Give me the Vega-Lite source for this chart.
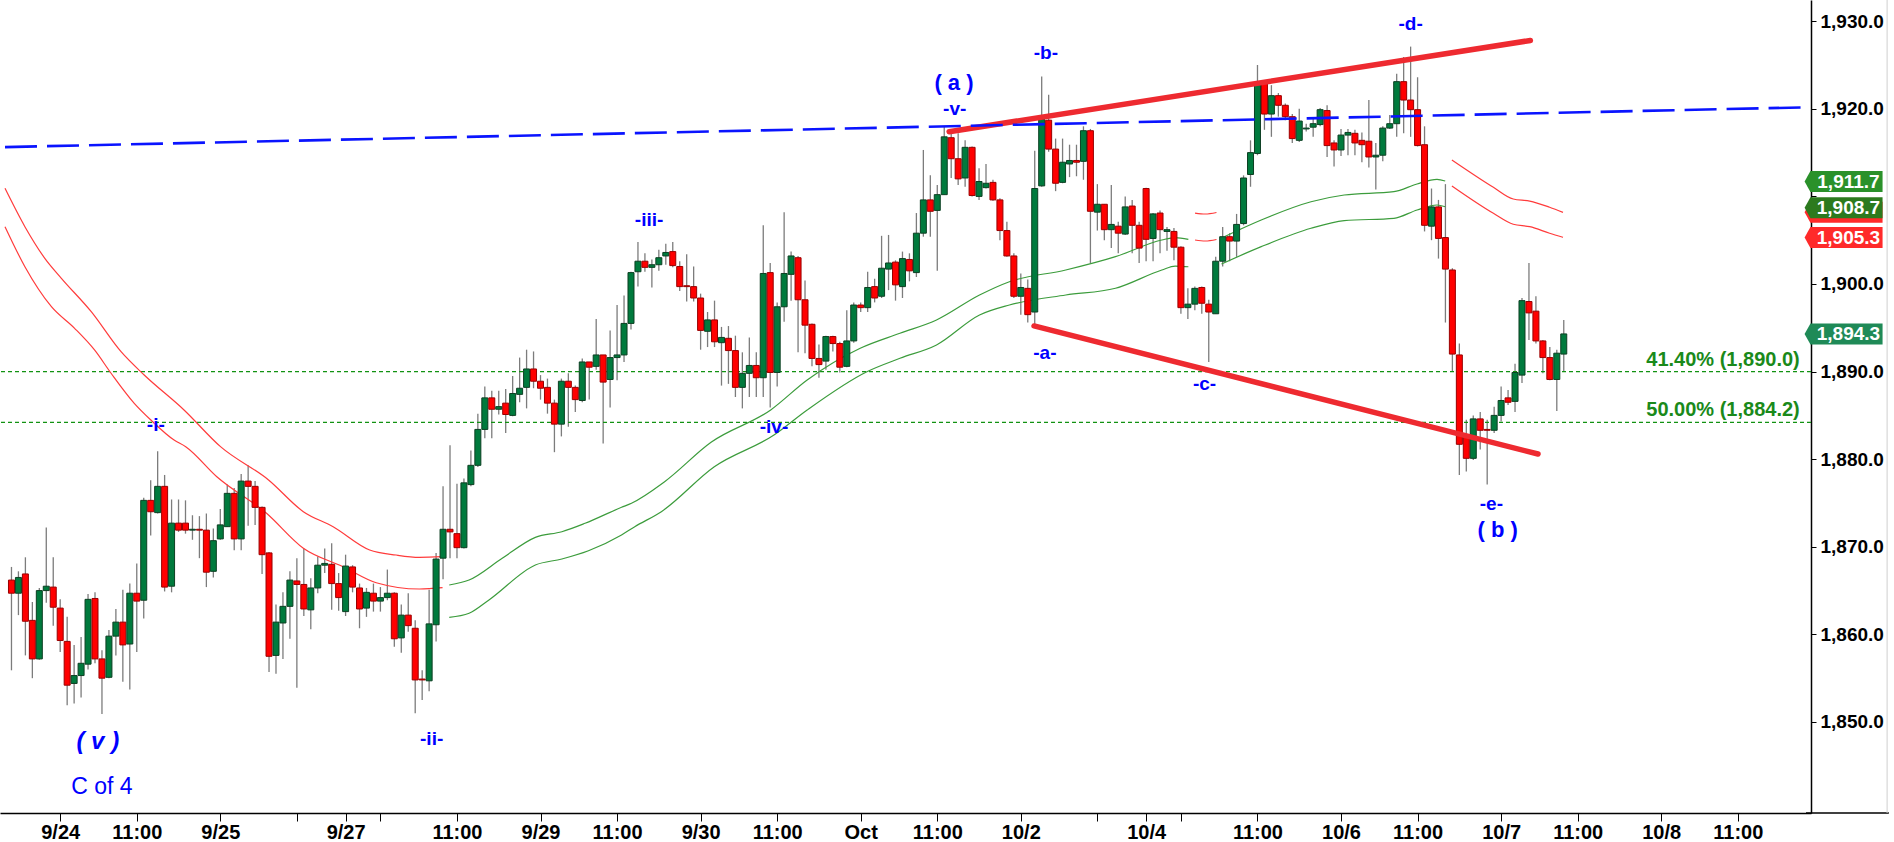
{
"$schema":"https://vega.github.io/schema/vega-lite/v6.json",
"width":1811,"height":813,
"autosize":"none",
"padding":{"left":0,"top":0,"right":83,"bottom":29},
"background":"white",
"config":{"view":{"stroke":null},"font":"Liberation Sans"},
"resolve":{"scale":{"color":"independent"}},
"datasets":{
"candles":[
{"i":-7,"o":1866.2,"h":1867.7,"l":1855.9,"c":1864.7},
{"i":-6,"o":1864.7,"h":1867.2,"l":1862.2,"c":1866.5},
{"i":-5,"o":1866.9,"h":1868.8,"l":1857.6,"c":1861.5},
{"i":-4,"o":1861.6,"h":1863.7,"l":1855.0,"c":1857.2},
{"i":-3,"o":1857.2,"h":1865.3,"l":1857.1,"c":1865.0},
{"i":-2,"o":1865.0,"h":1872.2,"l":1863.6,"c":1865.5},
{"i":-1,"o":1865.4,"h":1868.8,"l":1861.0,"c":1863.1},
{"i":0,"o":1863.0,"h":1864.0,"l":1858.0,"c":1859.3},
{"i":1,"o":1859.2,"h":1862.0,"l":1851.9,"c":1854.2},
{"i":2,"o":1854.4,"h":1858.8,"l":1852.1,"c":1855.3},
{"i":3,"o":1855.3,"h":1859.7,"l":1852.8,"c":1856.7},
{"i":4,"o":1856.6,"h":1864.6,"l":1856.0,"c":1864.0},
{"i":5,"o":1864.1,"h":1864.8,"l":1856.7,"c":1857.2},
{"i":6,"o":1857.2,"h":1858.2,"l":1850.9,"c":1855.0},
{"i":7,"o":1855.1,"h":1860.5,"l":1855.0,"c":1859.8},
{"i":8,"o":1859.8,"h":1862.9,"l":1857.6,"c":1861.4},
{"i":9,"o":1861.4,"h":1865.1,"l":1854.6,"c":1858.8},
{"i":10,"o":1858.9,"h":1865.8,"l":1853.7,"c":1864.7},
{"i":11,"o":1864.7,"h":1868.1,"l":1858.0,"c":1863.8},
{"i":12,"o":1863.9,"h":1875.6,"l":1861.8,"c":1875.3},
{"i":13,"o":1875.3,"h":1877.6,"l":1871.3,"c":1874.0},
{"i":14,"o":1873.9,"h":1880.9,"l":1873.8,"c":1876.9},
{"i":15,"o":1876.9,"h":1878.2,"l":1864.9,"c":1865.4},
{"i":16,"o":1865.5,"h":1875.4,"l":1864.8,"c":1872.7},
{"i":17,"o":1872.7,"h":1875.4,"l":1871.7,"c":1871.9},
{"i":18,"o":1872.7,"h":1875.3,"l":1871.5,"c":1871.9},
{"i":19,"o":1871.9,"h":1873.6,"l":1870.8,"c":1872.0},
{"i":20,"o":1872.0,"h":1873.5,"l":1868.7,"c":1871.9},
{"i":21,"o":1871.9,"h":1873.8,"l":1865.4,"c":1867.1},
{"i":22,"o":1867.2,"h":1872.1,"l":1866.5,"c":1870.7},
{"i":23,"o":1870.9,"h":1874.3,"l":1870.8,"c":1872.5},
{"i":24,"o":1872.3,"h":1877.1,"l":1872.3,"c":1876.1},
{"i":25,"o":1876.1,"h":1876.7,"l":1869.6,"c":1870.9},
{"i":26,"o":1870.9,"h":1878.3,"l":1869.6,"c":1877.5},
{"i":27,"o":1877.5,"h":1879.3,"l":1872.4,"c":1876.9},
{"i":28,"o":1876.9,"h":1877.5,"l":1872.5,"c":1874.5},
{"i":29,"o":1874.5,"h":1874.6,"l":1866.9,"c":1869.1},
{"i":30,"o":1869.3,"h":1869.4,"l":1855.7,"c":1857.5},
{"i":31,"o":1857.6,"h":1863.4,"l":1855.5,"c":1861.4},
{"i":32,"o":1861.3,"h":1864.8,"l":1857.2,"c":1863.2},
{"i":33,"o":1863.2,"h":1867.2,"l":1859.5,"c":1866.2},
{"i":34,"o":1866.1,"h":1868.7,"l":1853.9,"c":1865.7},
{"i":35,"o":1865.7,"h":1869.8,"l":1862.1,"c":1862.9},
{"i":36,"o":1862.8,"h":1866.4,"l":1860.6,"c":1865.3},
{"i":37,"o":1865.3,"h":1868.9,"l":1864.7,"c":1867.9},
{"i":38,"o":1867.9,"h":1869.8,"l":1867.0,"c":1868.1},
{"i":39,"o":1868.0,"h":1870.4,"l":1862.8,"c":1865.8},
{"i":40,"o":1865.8,"h":1867.0,"l":1862.7,"c":1864.2},
{"i":41,"o":1862.6,"h":1869.1,"l":1862.1,"c":1867.8},
{"i":42,"o":1867.7,"h":1867.9,"l":1864.8,"c":1865.4},
{"i":43,"o":1865.3,"h":1865.8,"l":1860.7,"c":1862.9},
{"i":44,"o":1863.0,"h":1865.3,"l":1862.0,"c":1864.8},
{"i":45,"o":1864.7,"h":1865.8,"l":1862.6,"c":1863.8},
{"i":46,"o":1863.8,"h":1865.4,"l":1862.6,"c":1864.2},
{"i":47,"o":1864.2,"h":1867.4,"l":1863.9,"c":1864.7},
{"i":48,"o":1864.7,"h":1864.8,"l":1858.6,"c":1859.5},
{"i":49,"o":1859.6,"h":1863.4,"l":1857.9,"c":1862.2},
{"i":50,"o":1862.2,"h":1864.7,"l":1860.3,"c":1861.0},
{"i":51,"o":1860.7,"h":1861.6,"l":1851.0,"c":1854.8},
{"i":52,"o":1854.9,"h":1855.9,"l":1852.5,"c":1854.8},
{"i":53,"o":1854.7,"h":1865.1,"l":1853.5,"c":1861.2},
{"i":54,"o":1861.1,"h":1869.3,"l":1859.2,"c":1868.6},
{"i":55,"o":1868.7,"h":1876.9,"l":1866.3,"c":1872.0},
{"i":56,"o":1872.0,"h":1881.6,"l":1868.7,"c":1871.7},
{"i":57,"o":1871.5,"h":1877.2,"l":1868.7,"c":1869.9},
{"i":58,"o":1869.9,"h":1877.8,"l":1869.8,"c":1877.3},
{"i":59,"o":1877.1,"h":1881.0,"l":1876.9,"c":1879.3},
{"i":60,"o":1879.3,"h":1885.2,"l":1879.1,"c":1883.4},
{"i":61,"o":1883.4,"h":1888.3,"l":1882.4,"c":1887.0},
{"i":62,"o":1887.0,"h":1887.8,"l":1882.4,"c":1885.7},
{"i":63,"o":1885.7,"h":1887.8,"l":1885.1,"c":1886.0},
{"i":64,"o":1886.4,"h":1888.0,"l":1883.0,"c":1885.1},
{"i":65,"o":1885.0,"h":1889.5,"l":1884.9,"c":1887.5},
{"i":66,"o":1887.4,"h":1891.6,"l":1886.5,"c":1888.1},
{"i":67,"o":1888.2,"h":1892.5,"l":1885.8,"c":1890.3},
{"i":68,"o":1890.3,"h":1892.3,"l":1888.1,"c":1888.9},
{"i":69,"o":1888.9,"h":1889.6,"l":1886.8,"c":1888.1},
{"i":70,"o":1888.2,"h":1889.2,"l":1885.2,"c":1886.4},
{"i":71,"o":1886.4,"h":1886.8,"l":1880.8,"c":1884.0},
{"i":72,"o":1884.0,"h":1889.2,"l":1882.6,"c":1888.9},
{"i":73,"o":1888.9,"h":1889.8,"l":1883.7,"c":1888.2},
{"i":74,"o":1888.2,"h":1888.4,"l":1885.4,"c":1886.8},
{"i":75,"o":1886.7,"h":1891.5,"l":1886.5,"c":1891.1},
{"i":76,"o":1891.1,"h":1891.1,"l":1886.8,"c":1890.5},
{"i":77,"o":1890.6,"h":1896.0,"l":1890.2,"c":1891.9},
{"i":78,"o":1891.9,"h":1891.9,"l":1881.8,"c":1888.8},
{"i":79,"o":1889.1,"h":1894.7,"l":1885.9,"c":1891.6},
{"i":80,"o":1891.6,"h":1897.6,"l":1889.0,"c":1891.9},
{"i":81,"o":1891.9,"h":1898.7,"l":1891.1,"c":1895.5},
{"i":82,"o":1895.5,"h":1901.4,"l":1894.8,"c":1901.3},
{"i":83,"o":1901.4,"h":1904.8,"l":1899.7,"c":1902.6},
{"i":84,"o":1902.6,"h":1903.5,"l":1901.4,"c":1901.9},
{"i":85,"o":1901.9,"h":1902.8,"l":1899.6,"c":1902.2},
{"i":86,"o":1902.2,"h":1903.9,"l":1901.5,"c":1903.0},
{"i":87,"o":1903.2,"h":1904.6,"l":1902.2,"c":1903.6},
{"i":88,"o":1903.7,"h":1904.8,"l":1901.9,"c":1902.1},
{"i":89,"o":1902.0,"h":1902.6,"l":1899.2,"c":1899.7},
{"i":90,"o":1899.8,"h":1903.4,"l":1898.0,"c":1899.7},
{"i":91,"o":1899.7,"h":1902.0,"l":1898.0,"c":1898.4},
{"i":92,"o":1898.4,"h":1898.9,"l":1892.5,"c":1894.7},
{"i":93,"o":1894.6,"h":1896.8,"l":1892.8,"c":1895.9},
{"i":94,"o":1895.9,"h":1898.1,"l":1892.8,"c":1893.4},
{"i":95,"o":1893.3,"h":1895.1,"l":1888.4,"c":1893.9},
{"i":96,"o":1893.8,"h":1895.2,"l":1888.6,"c":1892.4},
{"i":97,"o":1892.4,"h":1894.1,"l":1887.1,"c":1888.2},
{"i":98,"o":1888.2,"h":1892.2,"l":1885.8,"c":1889.8},
{"i":99,"o":1889.8,"h":1893.9,"l":1887.1,"c":1890.7},
{"i":100,"o":1890.7,"h":1892.2,"l":1887.1,"c":1889.3},
{"i":101,"o":1889.3,"h":1906.7,"l":1887.1,"c":1901.2},
{"i":102,"o":1901.3,"h":1902.4,"l":1885.9,"c":1889.9},
{"i":103,"o":1889.9,"h":1897.9,"l":1888.3,"c":1897.4},
{"i":104,"o":1897.4,"h":1908.2,"l":1895.7,"c":1901.2},
{"i":105,"o":1901.1,"h":1903.7,"l":1898.1,"c":1903.2},
{"i":106,"o":1903.0,"h":1903.2,"l":1892.2,"c":1898.2},
{"i":107,"o":1898.2,"h":1900.4,"l":1892.1,"c":1895.3},
{"i":108,"o":1895.4,"h":1895.5,"l":1890.6,"c":1891.5},
{"i":109,"o":1891.5,"h":1893.1,"l":1889.3,"c":1890.8},
{"i":110,"o":1891.2,"h":1894.1,"l":1890.2,"c":1894.0},
{"i":111,"o":1894.0,"h":1894.1,"l":1892.3,"c":1893.2},
{"i":112,"o":1893.2,"h":1893.4,"l":1889.9,"c":1890.5},
{"i":113,"o":1890.6,"h":1897.0,"l":1890.5,"c":1893.5},
{"i":114,"o":1893.5,"h":1897.9,"l":1893.3,"c":1897.6},
{"i":115,"o":1897.6,"h":1897.9,"l":1896.8,"c":1897.3},
{"i":116,"o":1897.3,"h":1901.4,"l":1896.8,"c":1899.6},
{"i":117,"o":1899.7,"h":1900.6,"l":1897.9,"c":1898.4},
{"i":118,"o":1898.6,"h":1905.5,"l":1898.4,"c":1901.8},
{"i":119,"o":1901.7,"h":1905.6,"l":1899.3,"c":1902.4},
{"i":120,"o":1902.5,"h":1902.7,"l":1898.1,"c":1899.9},
{"i":121,"o":1899.7,"h":1903.7,"l":1898.4,"c":1902.9},
{"i":122,"o":1902.8,"h":1903.5,"l":1900.3,"c":1901.5},
{"i":123,"o":1901.3,"h":1908.1,"l":1900.8,"c":1905.8},
{"i":124,"o":1905.8,"h":1915.3,"l":1905.4,"c":1909.6},
{"i":125,"o":1909.6,"h":1912.4,"l":1905.4,"c":1908.3},
{"i":126,"o":1908.4,"h":1911.3,"l":1901.5,"c":1910.2},
{"i":127,"o":1910.2,"h":1918.0,"l":1910.2,"c":1916.8},
{"i":128,"o":1916.7,"h":1917.2,"l":1912.1,"c":1914.3},
{"i":129,"o":1914.3,"h":1917.2,"l":1911.3,"c":1912.0},
{"i":130,"o":1912.1,"h":1916.4,"l":1911.1,"c":1915.6},
{"i":131,"o":1915.6,"h":1915.7,"l":1910.0,"c":1910.1},
{"i":132,"o":1910.0,"h":1913.2,"l":1909.6,"c":1911.7},
{"i":133,"o":1911.0,"h":1913.7,"l":1910.9,"c":1911.5},
{"i":134,"o":1911.6,"h":1911.9,"l":1909.5,"c":1909.6},
{"i":135,"o":1909.6,"h":1909.8,"l":1905.0,"c":1906.1},
{"i":136,"o":1906.1,"h":1907.1,"l":1903.1,"c":1903.2},
{"i":137,"o":1903.2,"h":1903.5,"l":1898.4,"c":1898.6},
{"i":138,"o":1898.6,"h":1901.2,"l":1896.5,"c":1899.6},
{"i":139,"o":1899.5,"h":1900.5,"l":1895.6,"c":1896.5},
{"i":140,"o":1896.8,"h":1915.2,"l":1895.2,"c":1910.9},
{"i":141,"o":1911.2,"h":1923.7,"l":1911.1,"c":1918.8},
{"i":142,"o":1918.7,"h":1921.6,"l":1915.1,"c":1915.4},
{"i":143,"o":1915.4,"h":1916.6,"l":1910.6,"c":1911.5},
{"i":144,"o":1911.6,"h":1916.6,"l":1911.5,"c":1913.9},
{"i":145,"o":1913.7,"h":1915.9,"l":1912.2,"c":1914.1},
{"i":146,"o":1914.1,"h":1915.9,"l":1912.3,"c":1913.9},
{"i":147,"o":1914.0,"h":1918.0,"l":1911.9,"c":1917.5},
{"i":148,"o":1917.5,"h":1917.7,"l":1902.4,"c":1908.3},
{"i":149,"o":1908.2,"h":1911.4,"l":1906.1,"c":1909.1},
{"i":150,"o":1909.1,"h":1909.1,"l":1905.0,"c":1906.2},
{"i":151,"o":1906.2,"h":1911.3,"l":1904.1,"c":1906.8},
{"i":152,"o":1906.6,"h":1907.1,"l":1903.5,"c":1905.8},
{"i":153,"o":1905.7,"h":1910.0,"l":1905.6,"c":1908.8},
{"i":154,"o":1908.9,"h":1909.6,"l":1903.5,"c":1906.7},
{"i":155,"o":1906.7,"h":1907.1,"l":1902.4,"c":1904.1},
{"i":156,"o":1910.9,"h":1911.0,"l":1902.6,"c":1905.1},
{"i":157,"o":1905.2,"h":1908.1,"l":1902.6,"c":1908.0},
{"i":158,"o":1908.1,"h":1908.4,"l":1903.5,"c":1906.2},
{"i":159,"o":1906.0,"h":1906.5,"l":1903.8,"c":1906.2},
{"i":160,"o":1906.0,"h":1906.4,"l":1902.7,"c":1904.2},
{"i":161,"o":1904.2,"h":1904.3,"l":1896.6,"c":1897.3},
{"i":162,"o":1897.3,"h":1899.5,"l":1896.0,"c":1897.7},
{"i":163,"o":1897.7,"h":1899.7,"l":1897.0,"c":1899.5},
{"i":164,"o":1899.6,"h":1899.7,"l":1896.6,"c":1897.8},
{"i":165,"o":1897.7,"h":1898.2,"l":1891.1,"c":1896.8},
{"i":166,"o":1896.6,"h":1903.1,"l":1896.6,"c":1902.6},
{"i":167,"o":1902.6,"h":1906.5,"l":1902.0,"c":1905.4},
{"i":168,"o":1905.4,"h":1905.8,"l":1902.6,"c":1904.9},
{"i":169,"o":1904.9,"h":1908.0,"l":1903.1,"c":1906.8},
{"i":170,"o":1906.9,"h":1912.4,"l":1906.7,"c":1912.1},
{"i":171,"o":1912.5,"h":1916.4,"l":1911.1,"c":1915.0},
{"i":172,"o":1914.9,"h":1925.0,"l":1914.7,"c":1922.9},
{"i":173,"o":1922.9,"h":1923.1,"l":1917.6,"c":1919.4},
{"i":174,"o":1919.4,"h":1922.7,"l":1916.8,"c":1921.5},
{"i":175,"o":1921.5,"h":1921.8,"l":1919.1,"c":1920.4},
{"i":176,"o":1920.4,"h":1920.6,"l":1918.7,"c":1919.1},
{"i":177,"o":1919.1,"h":1919.4,"l":1916.1,"c":1916.6},
{"i":178,"o":1916.4,"h":1920.0,"l":1916.2,"c":1918.6},
{"i":179,"o":1917.7,"h":1918.3,"l":1917.4,"c":1917.8},
{"i":180,"o":1917.9,"h":1918.9,"l":1916.8,"c":1918.3},
{"i":181,"o":1918.2,"h":1920.1,"l":1918.0,"c":1919.9},
{"i":182,"o":1919.8,"h":1920.4,"l":1914.5,"c":1915.8},
{"i":183,"o":1916.1,"h":1916.4,"l":1913.4,"c":1915.3},
{"i":184,"o":1915.3,"h":1917.7,"l":1914.6,"c":1917.0},
{"i":185,"o":1917.0,"h":1917.7,"l":1914.7,"c":1917.3},
{"i":186,"o":1917.2,"h":1917.6,"l":1914.7,"c":1916.1},
{"i":187,"o":1916.4,"h":1917.3,"l":1913.9,"c":1915.9},
{"i":188,"o":1916.3,"h":1921.0,"l":1913.3,"c":1914.5},
{"i":189,"o":1914.5,"h":1916.1,"l":1910.8,"c":1914.7},
{"i":190,"o":1914.7,"h":1918.0,"l":1914.0,"c":1917.8},
{"i":191,"o":1917.8,"h":1919.3,"l":1917.7,"c":1918.3},
{"i":192,"o":1918.3,"h":1924.0,"l":1916.8,"c":1923.1},
{"i":193,"o":1923.1,"h":1925.9,"l":1917.2,"c":1921.0},
{"i":194,"o":1921.0,"h":1927.1,"l":1916.8,"c":1919.9},
{"i":195,"o":1919.9,"h":1923.6,"l":1915.7,"c":1915.8},
{"i":196,"o":1915.9,"h":1918.0,"l":1906.0,"c":1906.7},
{"i":197,"o":1906.6,"h":1910.9,"l":1905.0,"c":1908.8},
{"i":198,"o":1908.8,"h":1909.6,"l":1902.9,"c":1905.2},
{"i":199,"o":1905.3,"h":1911.4,"l":1895.6,"c":1901.7},
{"i":200,"o":1901.6,"h":1901.8,"l":1890.0,"c":1892.0},
{"i":201,"o":1891.9,"h":1893.2,"l":1878.2,"c":1881.7},
{"i":202,"o":1882.6,"h":1884.5,"l":1878.6,"c":1880.1},
{"i":203,"o":1880.1,"h":1885.0,"l":1879.9,"c":1884.6},
{"i":204,"o":1884.6,"h":1885.4,"l":1881.1,"c":1883.3},
{"i":205,"o":1883.4,"h":1884.5,"l":1877.1,"c":1883.3},
{"i":206,"o":1883.3,"h":1886.0,"l":1883.0,"c":1885.0},
{"i":207,"o":1885.0,"h":1888.3,"l":1884.3,"c":1886.7},
{"i":208,"o":1887.0,"h":1887.9,"l":1886.2,"c":1886.5},
{"i":209,"o":1886.6,"h":1890.9,"l":1885.4,"c":1889.9},
{"i":210,"o":1889.6,"h":1898.4,"l":1888.7,"c":1898.1},
{"i":211,"o":1898.0,"h":1902.4,"l":1893.6,"c":1896.7},
{"i":212,"o":1896.9,"h":1898.6,"l":1893.2,"c":1893.5},
{"i":213,"o":1893.5,"h":1893.6,"l":1889.8,"c":1891.6},
{"i":214,"o":1891.6,"h":1892.8,"l":1889.0,"c":1889.1},
{"i":215,"o":1889.1,"h":1892.5,"l":1885.5,"c":1892.1},
{"i":216,"o":1892.0,"h":1895.9,"l":1890.0,"c":1894.3}
],
"ma":[
{"seg":"r1u","tr":"down","i":-7.93,"v":1910.92},{"seg":"r1u","tr":"down","i":-5.07,"v":1906.54},{"seg":"r1u","tr":"down","i":-2.21,"v":1902.93},{"seg":"r1u","tr":"down","i":0.17,"v":1900.65},{"seg":"r1u","tr":"down","i":4.46,"v":1896.84},{"seg":"r1u","tr":"down","i":8.74,"v":1892.27},{"seg":"r1u","tr":"down","i":12.07,"v":1889.61},{"seg":"r1u","tr":"down","i":17.79,"v":1885.62},{"seg":"r1u","tr":"down","i":23.03,"v":1881.43},{"seg":"r1u","tr":"down","i":29.93,"v":1877.63},{"seg":"r1u","tr":"down","i":34.93,"v":1874.01},{"seg":"r1u","tr":"down","i":39.21,"v":1872.29},{"seg":"r1u","tr":"down","i":44.46,"v":1869.63},{"seg":"r1u","tr":"down","i":48.26,"v":1869.06},{"seg":"r1u","tr":"down","i":51.6,"v":1868.8},{"seg":"r1u","tr":"down","i":54.93,"v":1868.87},
{"seg":"r1l","tr":"down","i":-7.93,"v":1906.54},{"seg":"r1l","tr":"down","i":-5.07,"v":1901.97},{"seg":"r1l","tr":"down","i":-1.26,"v":1897.41},{"seg":"r1l","tr":"down","i":2.07,"v":1894.94},{"seg":"r1l","tr":"down","i":4.93,"v":1892.47},{"seg":"r1l","tr":"down","i":7.31,"v":1889.81},{"seg":"r1l","tr":"down","i":10.64,"v":1886.38},{"seg":"r1l","tr":"down","i":13.03,"v":1884.47},{"seg":"r1l","tr":"down","i":16.36,"v":1882.19},{"seg":"r1l","tr":"down","i":18.03,"v":1881.43},{"seg":"r1l","tr":"down","i":22.5,"v":1878.0},{"seg":"r1l","tr":"down","i":29.64,"v":1873.82},{"seg":"r1l","tr":"down","i":34.93,"v":1869.83},{"seg":"r1l","tr":"down","i":40.64,"v":1867.73},{"seg":"r1l","tr":"down","i":45.4,"v":1865.9},{"seg":"r1l","tr":"down","i":51.6,"v":1865.18},{"seg":"r1l","tr":"down","i":54.93,"v":1865.33},
{"seg":"g1u","tr":"up","i":55.89,"v":1865.64},{"seg":"g1u","tr":"up","i":58.74,"v":1866.21},{"seg":"g1u","tr":"up","i":63.5,"v":1868.69},{"seg":"g1u","tr":"up","i":68.26,"v":1871.08},{"seg":"g1u","tr":"up","i":72.07,"v":1871.72},{"seg":"g1u","tr":"up","i":75.4,"v":1872.68},{"seg":"g1u","tr":"up","i":80.64,"v":1874.51},{"seg":"g1u","tr":"up","i":82.07,"v":1874.97},{"seg":"g1u","tr":"up","i":86.83,"v":1877.43},{"seg":"g1u","tr":"up","i":93.5,"v":1881.93},{"seg":"g1u","tr":"up","i":102.07,"v":1885.62},{"seg":"g1u","tr":"up","i":107.31,"v":1889.04},{"seg":"g1u","tr":"up","i":114.93,"v":1892.66},{"seg":"g1u","tr":"up","i":120.64,"v":1894.37},{"seg":"g1u","tr":"up","i":125.89,"v":1895.89},{"seg":"g1u","tr":"up","i":132.07,"v":1898.74},{"seg":"g1u","tr":"up","i":136.36,"v":1900.26},{"seg":"g1u","tr":"up","i":144.46,"v":1901.6},{"seg":"g1u","tr":"up","i":151.6,"v":1903.12},{"seg":"g1u","tr":"up","i":158.26,"v":1905.02},{"seg":"g1u","tr":"up","i":160.17,"v":1905.29},{"seg":"g1u","tr":"up","i":162.07,"v":1905.1},
{"seg":"g1l","tr":"up","i":55.89,"v":1861.95},{"seg":"g1l","tr":"up","i":58.74,"v":1862.41},{"seg":"g1l","tr":"up","i":61.6,"v":1863.93},{"seg":"g1l","tr":"up","i":68.26,"v":1867.92},{"seg":"g1l","tr":"up","i":72.07,"v":1868.61},{"seg":"g1l","tr":"up","i":75.89,"v":1869.55},{"seg":"g1l","tr":"up","i":80.64,"v":1871.35},{"seg":"g1l","tr":"up","i":82.54,"v":1872.29},{"seg":"g1l","tr":"up","i":86.36,"v":1874.01},{"seg":"g1l","tr":"up","i":93.97,"v":1879.14},{"seg":"g1l","tr":"up","i":102.54,"v":1882.76},{"seg":"g1l","tr":"up","i":107.31,"v":1885.62},{"seg":"g1l","tr":"up","i":115.89,"v":1889.99},{"seg":"g1l","tr":"up","i":120.64,"v":1891.52},{"seg":"g1l","tr":"up","i":125.89,"v":1893.04},{"seg":"g1l","tr":"up","i":132.07,"v":1896.46},{"seg":"g1l","tr":"up","i":136.36,"v":1897.6},{"seg":"g1l","tr":"up","i":144.46,"v":1898.74},{"seg":"g1l","tr":"up","i":151.6,"v":1899.51},{"seg":"g1l","tr":"up","i":158.26,"v":1901.6},{"seg":"g1l","tr":"up","i":160.17,"v":1902.05},{"seg":"g1l","tr":"up","i":162.07,"v":1901.97},
{"seg":"r2u","tr":"down","i":163.03,"v":1908.1},{"seg":"r2u","tr":"down","i":164.5,"v":1907.99},{"seg":"r2u","tr":"down","i":166.11,"v":1908.16},
{"seg":"r2l","tr":"down","i":163.03,"v":1905.02},{"seg":"r2l","tr":"down","i":164.5,"v":1904.91},{"seg":"r2l","tr":"down","i":166.11,"v":1905.08},
{"seg":"g2u","tr":"up","i":167.31,"v":1905.43},{"seg":"g2u","tr":"up","i":172.54,"v":1907.31},{"seg":"g2u","tr":"up","i":179.69,"v":1909.39},{"seg":"g2u","tr":"up","i":184.46,"v":1910.16},{"seg":"g2u","tr":"up","i":191.6,"v":1910.54},{"seg":"g2u","tr":"up","i":194.93,"v":1911.42},{"seg":"g2u","tr":"up","i":197.79,"v":1911.95},{"seg":"g2u","tr":"up","i":198.97,"v":1911.76},
{"seg":"g2l","tr":"up","i":166.83,"v":1902.28},{"seg":"g2l","tr":"up","i":172.54,"v":1904.26},{"seg":"g2l","tr":"up","i":179.69,"v":1906.36},{"seg":"g2l","tr":"up","i":184.46,"v":1907.23},{"seg":"g2l","tr":"up","i":191.6,"v":1907.5},{"seg":"g2l","tr":"up","i":194.93,"v":1908.45},{"seg":"g2l","tr":"up","i":197.79,"v":1909.02},{"seg":"g2l","tr":"up","i":198.97,"v":1908.82},
{"seg":"r3u","tr":"down","i":199.93,"v":1914.16},{"seg":"r3u","tr":"down","i":205.89,"v":1911.04},{"seg":"r3u","tr":"down","i":208.74,"v":1909.7},{"seg":"r3u","tr":"down","i":211.11,"v":1909.47},{"seg":"r3u","tr":"down","i":213.97,"v":1908.76},{"seg":"r3u","tr":"down","i":215.89,"v":1908.18},
{"seg":"r3l","tr":"down","i":199.93,"v":1911.19},{"seg":"r3l","tr":"down","i":205.89,"v":1908.07},{"seg":"r3l","tr":"down","i":208.74,"v":1906.82},{"seg":"r3l","tr":"down","i":211.11,"v":1906.54},{"seg":"r3l","tr":"down","i":213.97,"v":1905.79},{"seg":"r3l","tr":"down","i":215.89,"v":1905.33}
],
"trend":[
{"seg":"top","i":127.7,"v":1917.39},{"seg":"top","i":211.2,"v":1927.8},
{"seg":"bot","i":139.9,"v":1895.21},{"seg":"bot","i":212.3,"v":1880.59}
],
"blue":[{"i":-7.93,"v":1915.63},{"i":250.8,"v":1920.17}],
"fib":[{"i":249.9,"v":1890.0,"t":"41.40% (1,890.0)"},{"i":249.9,"v":1884.2,"t":"50.00% (1,884.2)"}],
"waves":[
{"i":13.74,"v":1883.9,"t":"-i-"},
{"i":53.36,"v":1848.06,"t":"-ii-"},
{"i":84.6,"v":1907.31,"t":"-iii-"},
{"i":102.54,"v":1883.71,"t":"-iv-"},
{"i":128.5,"v":1919.94,"t":"-v-"},
{"i":141.6,"v":1926.4,"t":"-b-"},
{"i":141.46,"v":1892.09,"t":"-a-"},
{"i":164.4,"v":1888.58,"t":"-c-"},
{"i":194.0,"v":1929.66,"t":"-d-"},
{"i":205.6,"v":1874.89,"t":"-e-"}
],
"big":[
{"i":128.4,"v":1922.91,"t":"( a )"},
{"i":206.5,"v":1871.92,"t":"( b )"}
],
"flags":[
{"k":"a","v":1911.7},{"k":"b","v":1908.2},{"k":"c","v":1908.7},{"k":"d","v":1905.3},{"k":"e","v":1894.3}
]
},
"layer":[
{"data":{"name":"candles"},"mark":{"type":"rule","color":"#7c7c7c","strokeWidth":1.3},
 "encoding":{"x":{"field":"i","type":"quantitative","scale":{"domain":[-7.93,250.8],"nice":false,"zero":false},
   "axis":{"orient":"bottom","title":null,"grid":false,"values":[0,11,23,34,41,46,57,69,80,92,103,115,126,138,149,156,161,172,184,195,207,218,230,241],
   "labelExpr":"['9/24','11:00','9/25','','9/27','','11:00','9/29','11:00','9/30','11:00','Oct','11:00','10/2','','10/4','','11:00','10/6','11:00','10/7','11:00','10/8','11:00'][indexof([0,11,23,34,41,46,57,69,80,92,103,115,126,138,149,156,161,172,184,195,207,218,230,241], datum.value)]",
   "labelOverlap":false,"labelFlush":false,"labelFont":"Liberation Sans Narrow, Liberation Sans","labelFontSize":20,"labelFontWeight":"bold","labelColor":"#000000","labelPadding":1,"labelBaseline":"top",
   "tickSize":8,"tickColor":"#000000","tickWidth":1,"domainColor":"#000000","domainWidth":1.5}},
 "y":{"field":"l","type":"quantitative","scale":{"domain":[1839.61,1932.42],"nice":false,"zero":false},
   "axis":{"orient":"right","title":null,"grid":false,"values":[1850,1860,1870,1880,1890,1900,1910,1920,1930],
   "labelExpr":"datum.value == 1910 ? '' : format(datum.value, ',.1f')",
   "labelFont":"Liberation Sans","labelFontSize":19,"labelFontWeight":"bold","labelColor":"#000000","labelPadding":4,
   "tickSize":5,"tickColor":"#000000","domainColor":"#000000","domainWidth":1.5}},
 "y2":{"field":"h"}}},
{"data":{"values":[{"a":250.8,"b":262.7}]},"mark":{"type":"rule","color":"#000000","strokeWidth":1.5},
 "encoding":{"x":{"field":"a","type":"quantitative","scale":{"domain":[-7.93,250.8],"nice":false,"zero":false}},
 "x2":{"field":"b"},
 "y":{"datum":1839.61,"type":"quantitative","scale":{"domain":[1839.61,1932.42],"nice":false,"zero":false}}}},
{"data":{"values":[{"a":262.45}]},"mark":{"type":"rule","color":"#cfcfcf","strokeWidth":1},
 "encoding":{"x":{"field":"a","type":"quantitative","scale":{"domain":[-7.93,250.8],"nice":false,"zero":false}},
 "y":{"datum":1839.61,"type":"quantitative","scale":{"domain":[1839.61,1932.42],"nice":false,"zero":false}},
 "y2":{"datum":1932.42}}},
{"data":{"name":"fib"},"mark":{"type":"rule","color":"#129212","strokeWidth":1.2,"strokeDash":[4,3]},
 "encoding":{"y":{"field":"v","type":"quantitative","scale":{"domain":[1839.61,1932.42],"nice":false,"zero":false}}}},
{"data":{"name":"ma"},"mark":{"type":"line","strokeWidth":1.2,"interpolate":"monotone"},
 "encoding":{"x":{"field":"i","type":"quantitative","scale":{"domain":[-7.93,250.8],"nice":false,"zero":false}},
 "y":{"field":"v","type":"quantitative","scale":{"domain":[1839.61,1932.42],"nice":false,"zero":false}},
 "detail":{"field":"seg"},
 "color":{"field":"tr","type":"nominal","scale":{"domain":["down","up"],"range":["#ff3b3b","#3c9c3c"]},"legend":null}}},
{"data":{"name":"candles"},"mark":{"type":"bar","width":6,"strokeWidth":1},
 "encoding":{"x":{"field":"i","type":"quantitative","scale":{"domain":[-7.93,250.8],"nice":false,"zero":false}},
 "y":{"field":"o","type":"quantitative","scale":{"domain":[1839.61,1932.42],"nice":false,"zero":false}},
 "y2":{"field":"c"},
 "color":{"condition":{"test":"datum.c >= datum.o","value":"#007a3d"},"value":"#ff0000"},
 "stroke":{"condition":{"test":"datum.c >= datum.o","value":"#0c3f22"},"value":"#990000"}}},
{"data":{"name":"trend"},"mark":{"type":"line","color":"#ee2a30","strokeWidth":5.5,"strokeCap":"round"},
 "encoding":{"x":{"field":"i","type":"quantitative","scale":{"domain":[-7.93,250.8],"nice":false,"zero":false}},
 "y":{"field":"v","type":"quantitative","scale":{"domain":[1839.61,1932.42],"nice":false,"zero":false}},
 "detail":{"field":"seg"}}},
{"data":{"name":"blue"},"mark":{"type":"line","color":"#0a14ff","strokeWidth":2.6,"strokeDash":[32,10]},
 "encoding":{"x":{"field":"i","type":"quantitative","scale":{"domain":[-7.93,250.8],"nice":false,"zero":false}},
 "y":{"field":"v","type":"quantitative","scale":{"domain":[1839.61,1932.42],"nice":false,"zero":false}}}},
{"data":{"name":"waves"},"mark":{"type":"text","color":"#0000ff","font":"Liberation Sans","fontSize":19,"fontWeight":"bold","baseline":"middle","align":"center"},
 "encoding":{"x":{"field":"i","type":"quantitative","scale":{"domain":[-7.93,250.8],"nice":false,"zero":false}},
 "y":{"field":"v","type":"quantitative","scale":{"domain":[1839.61,1932.42],"nice":false,"zero":false}},
 "text":{"field":"t"}}},
{"data":{"name":"big"},"mark":{"type":"text","color":"#0000ff","font":"Liberation Sans","fontSize":22,"fontWeight":"bold","baseline":"middle","align":"center"},
 "encoding":{"x":{"field":"i","type":"quantitative","scale":{"domain":[-7.93,250.8],"nice":false,"zero":false}},
 "y":{"field":"v","type":"quantitative","scale":{"domain":[1839.61,1932.42],"nice":false,"zero":false}},
 "text":{"field":"t"}}},
{"data":{"values":[{"i":5.4,"v":1847.75,"t":"( v )"}]},"mark":{"type":"text","color":"#0000ff","font":"Liberation Sans","fontSize":24,"fontWeight":"bold","fontStyle":"italic","baseline":"middle","align":"center"},
 "encoding":{"x":{"field":"i","type":"quantitative","scale":{"domain":[-7.93,250.8],"nice":false,"zero":false}},
 "y":{"field":"v","type":"quantitative","scale":{"domain":[1839.61,1932.42],"nice":false,"zero":false}},
 "text":{"field":"t"}}},
{"data":{"values":[{"i":6.0,"v":1842.58,"t":"C of 4"}]},"mark":{"type":"text","color":"#0000ff","font":"Liberation Sans Narrow, Liberation Sans","fontSize":23,"baseline":"middle","align":"center"},
 "encoding":{"x":{"field":"i","type":"quantitative","scale":{"domain":[-7.93,250.8],"nice":false,"zero":false}},
 "y":{"field":"v","type":"quantitative","scale":{"domain":[1839.61,1932.42],"nice":false,"zero":false}},
 "text":{"field":"t"}}},
{"data":{"name":"fib"},"mark":{"type":"text","color":"#1a8a1a","font":"Liberation Sans","fontSize":20,"fontWeight":"bold","baseline":"alphabetic","align":"right","dy":-6},
 "encoding":{"x":{"field":"i","type":"quantitative","scale":{"domain":[-7.93,250.8],"nice":false,"zero":false}},
 "y":{"field":"v","type":"quantitative","scale":{"domain":[1839.61,1932.42],"nice":false,"zero":false}},
 "text":{"field":"t"}}},
{"data":{"name":"flags"},"mark":{"type":"point","filled":true,"opacity":1,"size":6084,"shape":"M -1 0 L -0.85 -0.27 L 1 -0.27 L 1 0.27 L -0.85 0.27 Z","strokeWidth":0},
 "encoding":{"x":{"datum":256.2,"type":"quantitative","scale":{"domain":[-7.93,250.8],"nice":false,"zero":false}},
 "y":{"field":"v","type":"quantitative","scale":{"domain":[1839.61,1932.42],"nice":false,"zero":false}},
 "color":{"field":"k","type":"nominal","scale":{"domain":["a","b","c","d","e"],"range":["#2a912a","#ff2a2a","#2c7a1e","#ff2a2a","#1f8a57"]},"legend":null}}},
{"data":{"name":"flags"},"transform":[{"filter":"datum.k != 'b'"}],"mark":{"type":"text","color":"#ffffff","font":"Liberation Sans","fontSize":19,"fontWeight":"bold","baseline":"middle","align":"center"},
 "encoding":{"x":{"datum":256.9,"type":"quantitative","scale":{"domain":[-7.93,250.8],"nice":false,"zero":false}},
 "y":{"field":"v","type":"quantitative","scale":{"domain":[1839.61,1932.42],"nice":false,"zero":false}},
 "text":{"field":"v","type":"quantitative","format":",.1f"}}}
]
}
